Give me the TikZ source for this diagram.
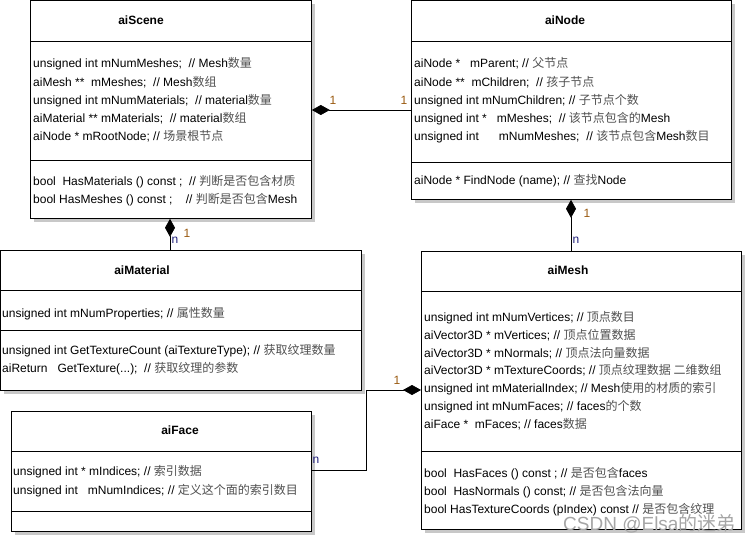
\documentclass[tikz,border=0pt]{standalone}
\usepackage{fontspec}
\setmainfont{Liberation Sans}
\newfontfamily\cjkfont{Noto Sans CJK SC}
\usetikzlibrary{arrows.meta,shadows}
\definecolor{zhgray}{HTML}{505050}
\definecolor{labone}{HTML}{9A5A10}
\definecolor{labnn}{HTML}{20207A}
\definecolor{shadowgray}{HTML}{C8C8C8}
\newcommand{\zh}[1]{{\cjkfont\color{zhgray}#1}}
\begin{document}
\begin{tikzpicture}[x=1bp,y=-1bp,
  cls/.style={draw=black, line width=0.8bp, fill=white, anchor=north west, inner sep=0,
    drop shadow={shadow xshift=4bp, shadow yshift=-4bp, fill=shadowgray, opacity=1}},
  ttl/.style={font=\fontsize{12bp}{14bp}\selectfont\bfseries, inner sep=0},
  txt/.style={anchor=base west, font=\fontsize{12bp}{14bp}\selectfont, inner sep=0},
  sepline/.style={line width=0.8bp},
  conn/.style={line width=0.8bp, {Diamond[length=18bp,width=10bp]}-},
  labone/.style={font=\fontsize{12bp}{14bp}\selectfont, text=labone, inner sep=0},
  labn/.style={font=\fontsize{12bp}{14bp}\selectfont, text=labnn, inner sep=0},
  wm/.style={font=\fontsize{19bp}{21bp}\selectfont, text=black!35, inner sep=0, anchor=base west}
]
\useasboundingbox[fill=white] (0,0) rectangle (745,535);

% ---------- aiScene ----------
\node[cls, minimum width=281bp, minimum height=218bp] (scene) at (30,0) {};
\node[ttl] (sceneT) at (141,20) {aiScene};
\draw[sepline] (scene.west |- 0,41) -- (scene.east |- 0,41);
\draw[sepline] (scene.west |- 0,160) -- (scene.east |- 0,160);
\node[txt] (s1) at (33,68) {unsigned int mNumMeshes;\ \ // Mesh\zh{数量}};
\node[txt] (s2) at (33,87) {aiMesh **\ \ mMeshes;\ \ // Mesh\zh{数组}};
\node[txt] (s3) at (33,105) {unsigned int mNumMaterials;\ \ // material\zh{数量}};
\node[txt] (s4) at (33,123) {aiMaterial ** mMaterials;\ \ // material\zh{数组}};
\node[txt] (s5) at (33,141) {aiNode * mRootNode; // \zh{场景根节点}};
\node[txt] (s6) at (33,186) {bool\ \ HasMaterials () const ;\ \ // \zh{判断是否包含材质}};
\node[txt] (s7) at (33,204) {bool HasMeshes () const ;\ \ \ \ // \zh{判断是否包含}Mesh};

% ---------- aiNode ----------
\node[cls, minimum width=320bp, minimum height=199bp] (node) at (411,0) {};
\node[ttl] (nodeT) at (565,20) {aiNode};
\draw[sepline] (node.west |- 0,41) -- (node.east |- 0,41);
\draw[sepline] (node.west |- 0,162) -- (node.east |- 0,162);
\node[txt] (n1) at (414,68) {aiNode *\ \ \ mParent; // \zh{父节点}};
\node[txt] (n2) at (414,87) {aiNode **\ \ mChildren;\ \ // \zh{孩子节点}};
\node[txt] (n3) at (414,105) {unsigned int mNumChildren; // \zh{子节点个数}};
\node[txt] (n4) at (414,123) {unsigned int *\ \ \ mMeshes;\ \ // \zh{该节点包含的}Mesh};
\node[txt] (n5) at (414,141) {unsigned int\ \ \ \ \ \ mNumMeshes;\ \ // \zh{该节点包含}Mesh\zh{数目}};
\node[txt] (n6) at (414,185) {aiNode * FindNode (name); // \zh{查找}Node};

% ---------- aiMaterial ----------
\node[cls, minimum width=361bp, minimum height=140bp] (material) at (0,250) {};
\node[ttl] (materialT) at (142,270) {aiMaterial};
\draw[sepline] (material.west |- 0,290) -- (material.east |- 0,290);
\draw[sepline] (material.west |- 0,330) -- (material.east |- 0,330);
\node[txt] (m1) at (2,317) {unsigned int mNumProperties; // \zh{属性数量}};
\node[txt] (m2) at (2,354) {unsigned int GetTextureCount (aiTextureType); // \zh{获取纹理数量}};
\node[txt] (m3) at (2,372) {aiReturn\ \ \ GetTexture(...);\ \ // \zh{获取纹理的参数}};

% ---------- aiMesh ----------
\node[cls, minimum width=320bp, minimum height=278bp] (mesh) at (421,251) {};
\node[ttl] (meshT) at (568,270) {aiMesh};
\draw[sepline] (mesh.west |- 0,291) -- (mesh.east |- 0,291);
\draw[sepline] (mesh.west |- 0,451) -- (mesh.east |- 0,451);
\node[txt] (e1) at (424,321) {unsigned int mNumVertices; // \zh{顶点数目}};
\node[txt] (e2) at (424,339) {aiVector3D * mVertices; // \zh{顶点位置数据}};
\node[txt] (e3) at (424,357) {aiVector3D * mNormals; // \zh{顶点法向量数据}};
\node[txt] (e4) at (424,374) {aiVector3D * mTextureCoords; // \zh{顶点纹理数据 二维数组}};
\node[txt] (e5) at (424,392) {unsigned int mMaterialIndex; // Mesh\zh{使用的材质的索引}};
\node[txt] (e6) at (424,410) {unsigned int mNumFaces; // faces\zh{的个数}};
\node[txt] (e7) at (424,428) {aiFace *\ \ mFaces; // faces\zh{数据}};
\node[txt] (e8) at (424,477) {bool\ \ HasFaces () const ; // \zh{是否包含}faces};
\node[txt] (e9) at (424,495) {bool\ \ HasNormals () const; // \zh{是否包含法向量}};
\node[txt] (e10) at (424,513) {bool HasTextureCoords (pIndex) const // \zh{是否包含纹理}};

% ---------- aiFace ----------
\node[cls, minimum width=300bp, minimum height=120bp] (face) at (11,411) {};
\node[ttl] (faceT) at (180,430) {aiFace};
\draw[sepline] (face.west |- 0,451) -- (face.east |- 0,451);
\draw[sepline] (face.west |- 0,511) -- (face.east |- 0,511);
\node[txt] (f1) at (13,475) {unsigned int * mIndices; // \zh{索引数据}};
\node[txt] (f2) at (13,494) {unsigned int\ \ \ mNumIndices; // \zh{定义这个面的索引数目}};

% ---------- connectors ----------
\draw[conn] (scene.east |- 0,110) -- (node.west |- 0,110);
\node[labone] (l1a) at (333,100) {1};
\node[labone] (l1b) at (404,100) {1};

\draw[conn] (scene.south -| 170,0) -- (material.north -| 170,0);
\node[labn] (l2n) at (175,240) {n};
\node[labone] (l2a) at (187,233) {1};

\draw[conn] (node.south -| 571,0) -- (mesh.north -| 571,0);
\node[labone] (l3a) at (587,213) {1};
\node[labn] (l3n) at (576,240) {n};

\draw[conn] (mesh.west |- 0,390) -- ++(-55,0) |- (face.east |- 0,470);
\node[labone] (l4a) at (397,380) {1};
\node[labn] (l4n) at (316,460) {n};

% ---------- watermark ----------
\node[wm] (wmark) at (563,530) {CSDN @Elsa{\cjkfont 的迷弟}};
\end{tikzpicture}
\end{document}
